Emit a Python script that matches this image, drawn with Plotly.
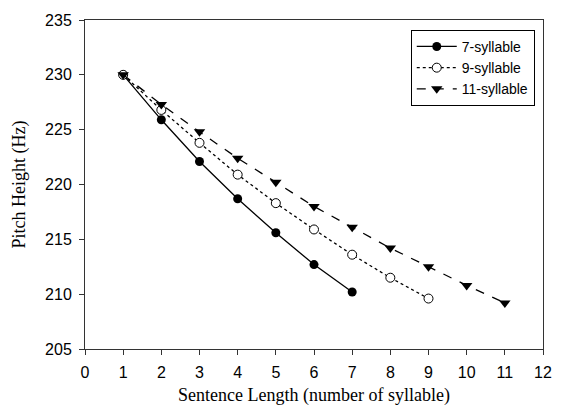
import plotly.graph_objects as go

x7 = [1, 2, 3, 4, 5, 6, 7]
y7 = [230.0, 225.9, 222.1, 218.7, 215.6, 212.7, 210.2]
x9 = [1, 2, 3, 4, 5, 6, 7, 8, 9]
y9 = [230.0, 226.8, 223.8, 220.9, 218.3, 215.9, 213.6, 211.5, 209.6]
x11 = [1, 2, 3, 4, 5, 6, 7, 8, 9, 10, 11]
y11 = [230.0, 227.3, 224.8, 222.4, 220.2, 218.0, 216.1, 214.2, 212.5, 210.8, 209.2]

fig = go.Figure()
fig.add_trace(go.Scatter(x=x7, y=y7, name="7-syllable", mode="lines+markers",
                         line=dict(color="black", width=1.3, dash="solid"),
                         marker=dict(symbol="circle", size=9, color="black")))
fig.add_trace(go.Scatter(x=x9, y=y9, name="9-syllable", mode="lines+markers",
                         line=dict(color="black", width=1.3, dash="dot"),
                         marker=dict(symbol="circle", size=9, color="white",
                                     line=dict(color="black", width=1))))
fig.add_trace(go.Scatter(x=x11, y=y11, name="11-syllable", mode="lines+markers",
                         line=dict(color="black", width=1.3, dash="dash"),
                         marker=dict(symbol="triangle-down", size=10, color="black")))

tickfont = dict(family="Liberation Sans, Arial", size=16, color="black")
titlefont = dict(family="Liberation Serif, Times New Roman", size=18, color="black")
axis_common = dict(showline=True, linecolor="#333333", linewidth=1, mirror=True,
                   ticks="outside", ticklen=5, tickcolor="#333333", showgrid=False,
                   zeroline=False, tickfont=tickfont)

fig.update_xaxes(range=[0, 12], dtick=1, tick0=0, ticklabelstandoff=4,
                 title=dict(text="Sentence Length (number of syllable)",
                            font=titlefont, standoff=8),
                 **axis_common)
fig.update_yaxes(range=[205, 235], dtick=5, tick0=205, ticklabelstandoff=4,
                 title=dict(text="Pitch Height (Hz)", font=titlefont, standoff=14),
                 **axis_common)

fig.update_layout(
    width=564, height=414,
    margin=dict(l=85, r=13, t=14, b=65),
    paper_bgcolor="white", plot_bgcolor="white",
    showlegend=True,
    legend=dict(x=0.982, y=0.97, xanchor="right", yanchor="top",
                bordercolor="black", borderwidth=1, bgcolor="white",
                font=dict(family="Liberation Sans, Arial", size=14, color="black"),
                tracegroupgap=0, itemwidth=40),
)

fig.write_html("out.html")
